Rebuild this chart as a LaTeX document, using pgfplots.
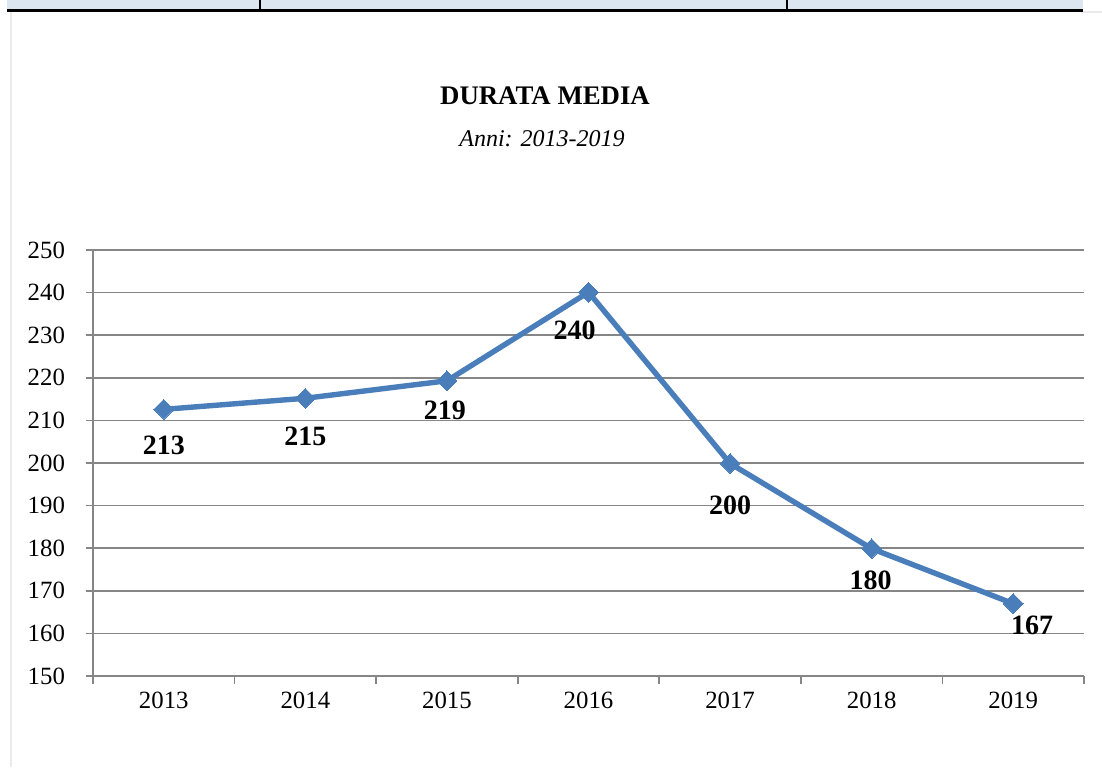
\documentclass[border=0pt]{standalone}
\usepackage{pgfplots}
\pgfplotsset{compat=1.18}
\usepackage{pgfplotstable}
\usepackage{fontspec}
\setmainfont{Liberation Serif}

\definecolor{lineblue}{HTML}{4A7EBB}
\definecolor{gridgray}{HTML}{868686}
\definecolor{headblue}{HTML}{DCE6F1}

% year index, value, label, label offsets (pt)
\pgfplotstableread{
x  y      lab  dx    dy
0  212.6  213  0     -18
1  215.2  215  0     -19
2  219.3  219  -1    -15
3  240.1  240  -7    -19
4  199.9  200  0     -21
5  179.9  180  -0.5  -16
6  167.0  167  9.5   -11
}\durata

\begin{document}
\begin{tikzpicture}
\useasboundingbox (0pt,0pt) rectangle (551pt,-383.5pt);
% table fragment on top
\fill[headblue] (3.5pt,0pt) rectangle (541.5pt,-4.5pt);
\draw[line width=1.5pt] (3.5pt,-5pt) -- (541.5pt,-5pt);
\draw[line width=1pt] (130pt,0pt) -- (130pt,-5pt);
\draw[line width=1pt] (393.5pt,0pt) -- (393.5pt,-5pt);
\draw[black!8,line width=0.6pt] (5.5pt,-6pt) -- (5.5pt,-383.5pt);
\draw[black!8,line width=0.6pt] (541.5pt,-6pt) -- (551pt,-6pt);

\node[font=\fontsize{13.4}{15}\selectfont\bfseries] at (272.5pt,-48pt) {DURATA MEDIA};
\node[font=\fontsize{12}{14}\selectfont\itshape] at (271pt,-69.5pt) {Anni: 2013-2019};

\begin{axis}[
  at={(46.5pt,-338pt)}, anchor=south west,
  scale only axis, width=495.5pt, height=213pt,
  xmin=-0.5, xmax=6.5, ymin=150, ymax=250,
  ytick={150,160,...,250},
  xtick={0,...,6},
  xticklabels={2013,2014,2015,2016,2017,2018,2019},
  minor xtick={-0.5,0.5,...,6.5},
  major x tick style={draw=none},
  minor tick length=4pt, major tick length=3.5pt,
  tick align=outside,
  axis lines*=left,
  axis line style={gridgray, line width=0.8pt},
  tick style={gridgray, line width=0.8pt},
  ymajorgrids, grid style={gridgray, line width=0.8pt},
  ticklabel style={font=\fontsize{12.4}{14}\selectfont},
  /pgf/number format/assume math mode=true,
  yticklabel style={xshift=-7pt},
  xticklabel style={yshift=-1pt},
  clip=false,
]
\addplot[lineblue, line width=2.7pt, mark=square*,
  mark options={rotate=45, mark size=3.5pt, fill=lineblue, draw=lineblue, line width=0pt},
  point meta=explicit symbolic,
  visualization depends on={\thisrow{dx} \as \dx},
  visualization depends on={\thisrow{dy} \as \dy},
  nodes near coords,
  every node near coord/.style={anchor=center, xshift=\dx pt, yshift=\dy pt,
    font=\fontsize{14}{16}\selectfont\bfseries, text=black},
] table[x=x, y=y, meta=lab] {\durata};
\end{axis}
\end{tikzpicture}
\end{document}
